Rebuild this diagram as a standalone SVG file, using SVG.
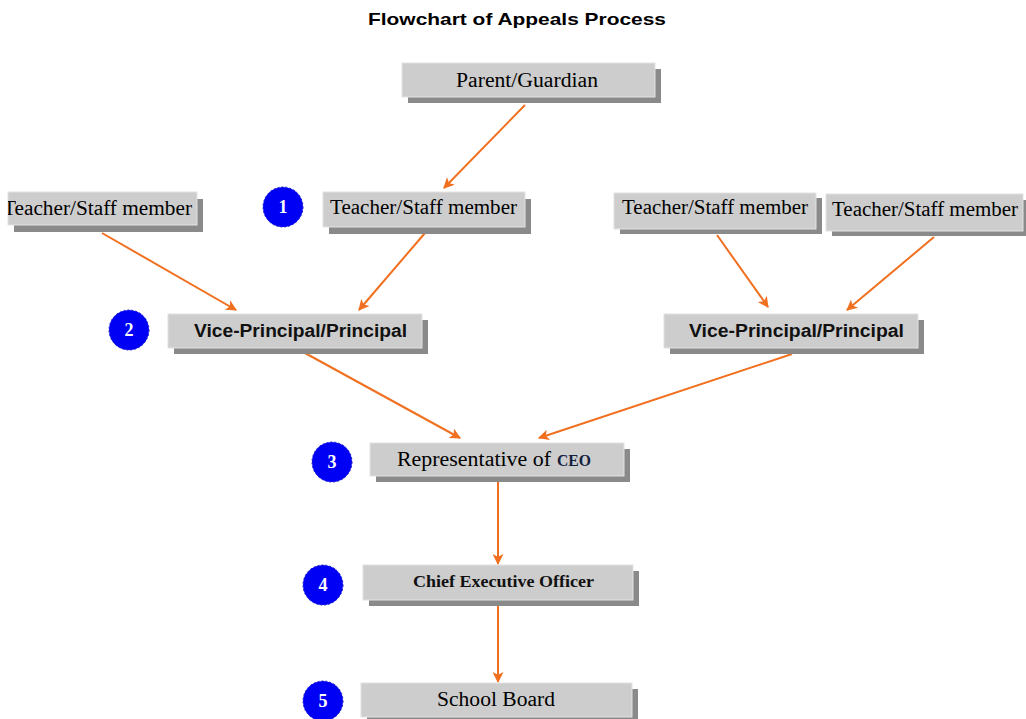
<svg xmlns="http://www.w3.org/2000/svg" width="1026" height="719" viewBox="0 0 1026 719">
<style>
.sh{fill:#8a8a8a}
.bx{fill:#cdcdcd;stroke:#e2e2e2;stroke-width:1}
.sr{font-family:"Liberation Serif","Times New Roman",serif;font-size:20px;fill:#000}
.vp{font-family:"Liberation Sans",Arial,sans-serif;font-size:18px;font-weight:bold;fill:#111}
.ceo{font-family:"Liberation Serif","Times New Roman",serif;font-size:16px;font-weight:bold;fill:#111}
.num{font-family:"Liberation Serif","Times New Roman",serif;font-size:18px;font-weight:bold;fill:#fff}
.dot{fill:#0000f5;stroke:#1a1ad0;stroke-width:1;stroke-dasharray:2 2}
.ln{stroke:#f07020;stroke-width:2;fill:none;marker-end:url(#ah)}
</style>
<defs>
<marker id="ah" viewBox="0 0 10 10" refX="9" refY="5" markerWidth="6.5" markerHeight="5.5" markerUnits="strokeWidth" orient="auto">
<path d="M0,0 L10,5 L0,10 L2.5,5 Z" fill="#f07020"/>
</marker>
<clipPath id="clipL"><rect x="8" y="185" width="200" height="50"/></clipPath>
</defs>
<rect width="1026" height="719" fill="#fff"/>
<text x="517" y="25" text-anchor="middle" font-family="'Liberation Sans',Arial,sans-serif" font-size="16.5" font-weight="bold" textLength="298" lengthAdjust="spacingAndGlyphs">Flowchart of Appeals Process</text>

<g id="connectors">
<line class="ln" x1="525" y1="105" x2="444" y2="188"/>
<line class="ln" x1="102" y1="233" x2="236" y2="310"/>
<line class="ln" x1="425" y1="233" x2="359" y2="310"/>
<line class="ln" x1="717" y1="235" x2="768" y2="307"/>
<line class="ln" x1="934" y1="237" x2="847" y2="310"/>
<line class="ln" x1="305" y1="353" x2="460" y2="438"/>
<line class="ln" x1="792" y1="354" x2="539" y2="438"/>
<line class="ln" x1="498" y1="482" x2="498" y2="564"/>
<line class="ln" x1="498" y1="606" x2="498" y2="682"/>
</g>

<g id="parent">
<rect class="sh" x="408" y="69" width="253" height="34"/>
<rect class="bx" x="402" y="63" width="253" height="34"/>
<text class="sr" x="456" y="87" textLength="142" lengthAdjust="spacingAndGlyphs">Parent/Guardian</text>
</g>

<g id="teacher-left">
<rect class="sh" x="14" y="199" width="189" height="33"/>
<rect class="bx" x="8" y="192" width="189" height="33"/>
<text class="sr" x="3" y="215" textLength="189" lengthAdjust="spacingAndGlyphs" clip-path="url(#clipL)">Teacher/Staff member</text>
</g>

<g id="teacher-mid">
<rect class="sh" x="329" y="199" width="202" height="35"/>
<rect class="bx" x="323" y="192" width="202" height="35"/>
<text class="sr" x="330" y="214" textLength="187" lengthAdjust="spacingAndGlyphs">Teacher/Staff member</text>
</g>

<g id="teacher-r1">
<rect class="sh" x="620" y="198" width="202" height="36"/>
<rect class="bx" x="614" y="193" width="202" height="36"/>
<text class="sr" x="622" y="214" textLength="186" lengthAdjust="spacingAndGlyphs">Teacher/Staff member</text>
</g>

<g id="teacher-r2">
<rect class="sh" x="832" y="200" width="197" height="36"/>
<rect class="bx" x="826" y="194" width="197" height="37"/>
<text class="sr" x="832" y="216" textLength="186" lengthAdjust="spacingAndGlyphs">Teacher/Staff member</text>
</g>

<g id="vp-left">
<rect class="sh" x="174" y="320" width="254" height="34"/>
<rect class="bx" x="168" y="314" width="254" height="34"/>
<text class="vp" x="194" y="337" textLength="213" lengthAdjust="spacingAndGlyphs">Vice-Principal/Principal</text>
</g>

<g id="vp-right">
<rect class="sh" x="670" y="320" width="254" height="34"/>
<rect class="bx" x="664" y="314" width="254" height="34"/>
<text class="vp" x="689" y="337" textLength="215" lengthAdjust="spacingAndGlyphs">Vice-Principal/Principal</text>
</g>

<g id="rep-ceo">
<rect class="sh" x="376" y="449" width="254" height="33"/>
<rect class="bx" x="370" y="443" width="254" height="33"/>
<text class="sr" x="397" y="466"><tspan textLength="154" lengthAdjust="spacingAndGlyphs">Representative of</tspan><tspan x="557" font-size="17" font-weight="bold" fill="#14203f" textLength="34" lengthAdjust="spacingAndGlyphs">CEO</tspan></text>
</g>

<g id="chief">
<rect class="sh" x="369" y="571" width="270" height="35"/>
<rect class="bx" x="363" y="565" width="270" height="35"/>
<text class="ceo" x="413" y="587" textLength="181" lengthAdjust="spacingAndGlyphs">Chief Executive Officer</text>
</g>

<g id="school-board">
<rect class="sh" x="367" y="689" width="271" height="34"/>
<rect class="bx" x="361" y="683" width="271" height="34"/>
<text class="sr" x="437" y="706" textLength="118" lengthAdjust="spacingAndGlyphs">School Board</text>
</g>

<g id="step-1"><circle class="dot" cx="283" cy="207" r="20"/><text class="num" x="283" y="213" text-anchor="middle">1</text></g>
<g id="step-2"><circle class="dot" cx="129" cy="330" r="20"/><text class="num" x="129" y="336" text-anchor="middle">2</text></g>
<g id="step-3"><circle class="dot" cx="332" cy="462" r="20"/><text class="num" x="332" y="468" text-anchor="middle">3</text></g>
<g id="step-4"><circle class="dot" cx="323" cy="585" r="20"/><text class="num" x="323" y="591" text-anchor="middle">4</text></g>
<g id="step-5"><circle class="dot" cx="323" cy="701" r="20"/><text class="num" x="323" y="707" text-anchor="middle">5</text></g>
</svg>
